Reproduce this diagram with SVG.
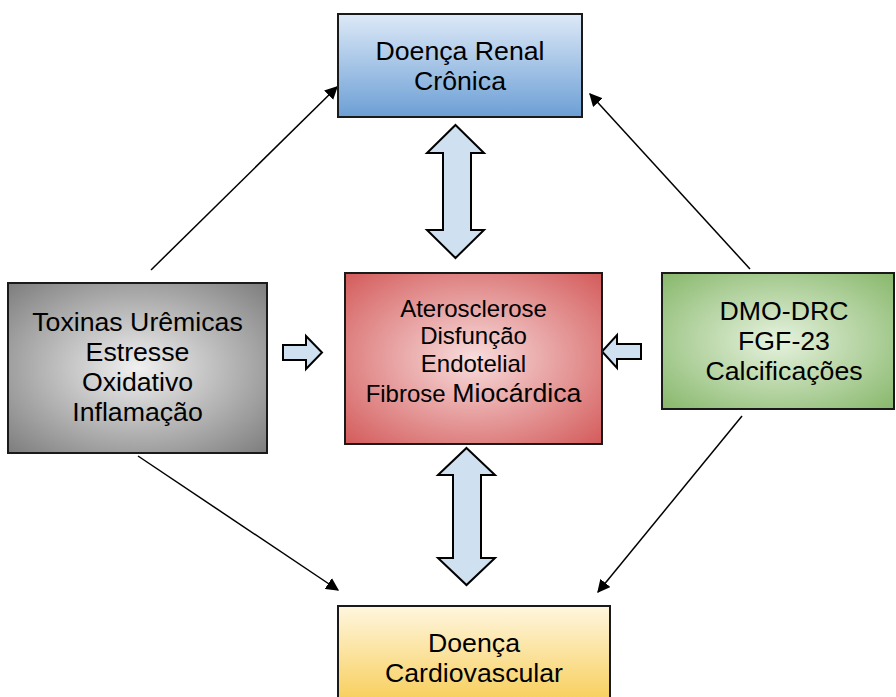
<svg xmlns="http://www.w3.org/2000/svg" width="896" height="697" viewBox="0 0 896 697">
<defs>
<linearGradient id="gBlue" x1="0" y1="0" x2="0" y2="1"><stop offset="0" stop-color="#dde9f7"/><stop offset="1" stop-color="#6c9fd5"/></linearGradient>
<linearGradient id="gYellow" x1="0" y1="0" x2="0" y2="1"><stop offset="0" stop-color="#fff6df"/><stop offset="1" stop-color="#f7cd55"/></linearGradient>
<radialGradient id="gGray" cx="0.5" cy="0.5" r="0.7"><stop offset="0" stop-color="#f0f0f0"/><stop offset="1" stop-color="#7e7e7e"/></radialGradient>
<radialGradient id="gRed" cx="0.5" cy="0.5" r="0.7"><stop offset="0" stop-color="#f8dcdc"/><stop offset="1" stop-color="#d45c5c"/></radialGradient>
<radialGradient id="gGreen" cx="0.5" cy="0.5" r="0.7"><stop offset="0" stop-color="#e6f2de"/><stop offset="1" stop-color="#88b86c"/></radialGradient>
<marker id="ah" viewBox="0 0 10 10" refX="9" refY="5" markerWidth="13" markerHeight="13" markerUnits="userSpaceOnUse" orient="auto"><path d="M0,0 L10,5 L0,10 z" fill="#000"/></marker>
</defs>
<style>
.box{stroke:#1a1a1a;stroke-width:2}
.t{font-family:"Liberation Sans",Arial,sans-serif;font-size:26.7px;fill:#000;text-anchor:middle}
.ts{font-family:"Liberation Sans",Arial,sans-serif;font-size:24px;fill:#000;text-anchor:middle}
.blk{fill:#cfe0f1;stroke:#000;stroke-width:2;stroke-linejoin:miter}
.ln{stroke:#000;stroke-width:1.5;fill:none;marker-end:url(#ah)}
</style>
<g id="connectors">
<line class="ln" x1="151" y1="270" x2="337" y2="87"/>
<line class="ln" x1="750" y1="269" x2="590" y2="94"/>
<line class="ln" x1="138" y1="456" x2="338" y2="590"/>
<line class="ln" x1="742" y1="416" x2="598" y2="592"/>
<path class="blk" d="M455.5,125 L484,153 L471,153 L471,230 L484,230 L455.5,258 L427,230 L443,230 L443,153 L427,153 Z"/>
<path class="blk" d="M466.5,448 L495,475 L481,475 L481,558 L495,558 L466.5,585 L438,558 L453,558 L453,475 L438,475 Z"/>
<path class="blk" d="M283,345 L306,345 L306,336 L322,352.5 L306,369 L306,360 L283,360 Z"/>
<path class="blk" d="M641,344 L617,344 L617,335 L602,351.5 L617,368 L617,359 L641,359 Z"/>
</g>
<g id="node-drc">
<rect class="box" x="338" y="14" width="244" height="103" fill="url(#gBlue)"/>
<text class="t" x="460" y="60">Doença Renal</text>
<text class="t" x="460" y="90">Crônica</text>
</g>
<g id="node-toxinas">
<rect class="box" x="8" y="283" width="259" height="170" fill="url(#gGray)"/>
<text class="t" x="137.5" y="331">Toxinas Urêmicas</text>
<text class="t" x="137.5" y="361">Estresse</text>
<text class="t" x="137.5" y="391">Oxidativo</text>
<text class="t" x="137.5" y="421">Inflamação</text>
</g>
<g id="node-centro">
<rect class="box" x="345" y="273" width="257" height="171" fill="url(#gRed)"/>
<text class="ts" x="473.5" y="317">Aterosclerose</text>
<text class="ts" x="473.5" y="344">Disfunção</text>
<text class="ts" x="473.5" y="372">Endotelial</text>
<text class="ts" x="473.5" y="402">Fibrose <tspan font-size="26.7">Miocárdica</tspan></text>
</g>
<g id="node-dmo">
<rect class="box" x="662" y="273" width="232" height="136" fill="url(#gGreen)"/>
<text class="t" x="784" y="320">DMO-DRC</text>
<text class="t" x="784" y="350">FGF-23</text>
<text class="t" x="784" y="380">Calcificações</text>
</g>
<g id="node-dcv">
<rect class="box" x="338" y="606" width="272" height="100" fill="url(#gYellow)"/>
<text class="t" x="474" y="652">Doença</text>
<text class="t" x="474" y="682">Cardiovascular</text>
</g>
</svg>
